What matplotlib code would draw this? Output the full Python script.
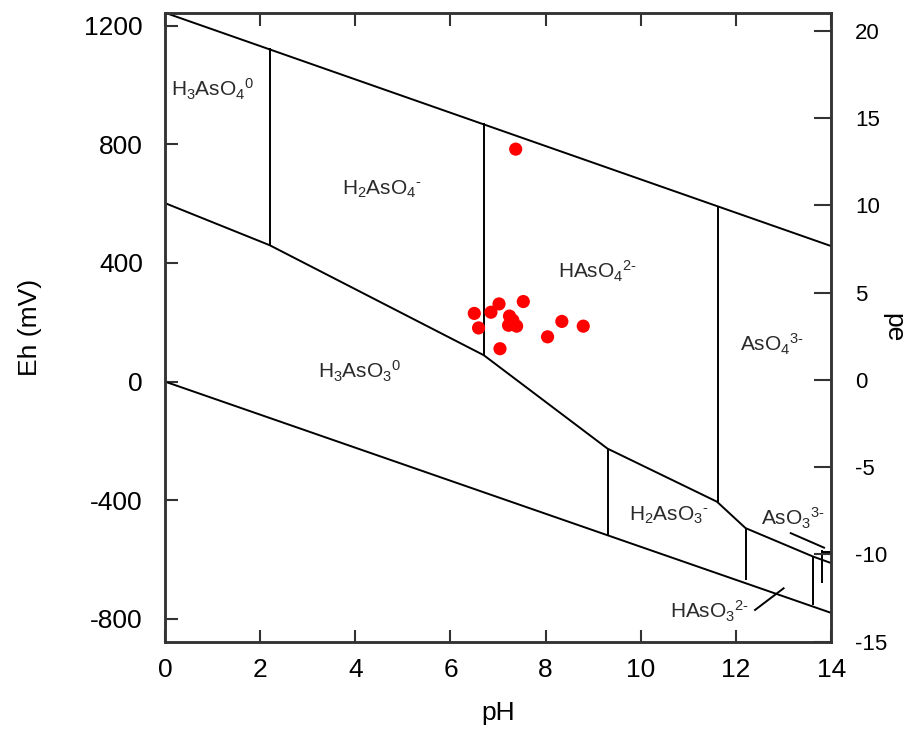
import numpy as np
import matplotlib
matplotlib.use('Agg')
import matplotlib.pyplot as plt

plt.rcParams['font.family'] = ['Liberation Sans', 'DejaVu Sans']
plt.rcParams['mathtext.fontset'] = 'custom'
plt.rcParams['mathtext.rm'] = 'Liberation Sans'
plt.rcParams['mathtext.default'] = 'regular'
plt.rcParams['axes.unicode_minus'] = False

# water stability limits (pH, Eh mV)
upper_ph = [0, 14]
upper_eh = [1244, 457]
lower_ph = [0, 14]
lower_eh = [0, -780]

# As(V)/As(III) boundary
redox_ph = [0, 2.2, 6.7, 9.3, 11.6, 12.2, 13.62, 14]
redox_eh = [602, 460, 89, -226, -405, -494, -590, -612]

# vertical acid-base boundaries: pH, Eh bottom, Eh top
vert_ph = [2.2, 6.7, 11.62, 9.3, 12.2, 13.62, 13.8]
vert_lo = [460, 89, -405, -517, -670, -754, -680]
vert_hi = [1125, 872, 590, -226, -494, -590, -568]

# samples
sample_ph = [7.37, 6.50, 6.59, 6.85, 7.02, 7.53, 7.24, 7.22, 7.39, 7.31, 7.04, 8.04, 8.34, 8.79]
sample_eh = [784, 230, 181, 234, 262, 270, 221, 190, 187, 207, 111, 151, 203, 187]

hy = '\u2010'
labels = [r'H$_3$AsO$_4$$^0$', r'H$_2$AsO$_4$$^{' + hy + '}$', r'HAsO$_4$$^{2' + hy + '}$',
          r'AsO$_4$$^{3' + hy + '}$', r'H$_3$AsO$_3$$^0$', r'H$_2$AsO$_3$$^{' + hy + '}$',
          r'AsO$_3$$^{3' + hy + '}$', r'HAsO$_3$$^{2' + hy + '}$']
label_ph = [1.0, 4.55, 9.1, 12.75, 4.1, 10.6, 13.2, 11.45]
label_eh = [985, 650, 370, 125, 35, -450, -460, -775]

fig = plt.figure(figsize=(9.08, 7.31), dpi=100)
ax = fig.add_axes([0.1817, 0.1222, 0.7337, 0.8604])
lc = 'black'
lw = 1.4
ax.plot(upper_ph, upper_eh, color=lc, lw=lw)
ax.plot(lower_ph, lower_eh, color=lc, lw=lw)
ax.plot(redox_ph, redox_eh, color=lc, lw=lw)
ax.vlines(vert_ph, vert_lo, vert_hi, color=lc, lw=lw)
ax.plot([13.8, 14], [-575, -575], color=lc, lw=lw)
# leader lines
ax.plot([13.15, 13.85], [-511, -560], color=lc, lw=lw)
ax.plot([12.4, 13.0], [-770, -697], color=lc, lw=lw)

ax.scatter(sample_ph, sample_eh, s=90, color='red', zorder=5, edgecolors='none')

for t, x, y in zip(labels, label_ph, label_eh):
    ax.text(x, y, t, fontsize=15, ha='center', va='center', color='#2a2a2a')

ax.set_xlim(0, 14)
ax.set_ylim(-877, 1244)
ax.set_xticks(range(0, 15, 2))
ax.set_yticks([-800, -400, 0, 400, 800, 1200])
ax.set_xlabel('pH', fontsize=19)
ax.set_ylabel('Eh (mV)', fontsize=19, va='center')
ax.xaxis.set_label_coords(0.5, -0.095)
ax.yaxis.set_label_coords(-0.203, 0.5)
ax.tick_params(direction='in', length=9, width=1.5, labelsize=19, pad=12, color='#333333',
               top=True, labeltop=False)
ax.tick_params(axis='y', pad=16)
for s in ax.spines.values():
    s.set_linewidth(1.8)
    s.set_color('#333333')

ax2 = ax.twinx()
ax2.set_ylim(-877 / 59.16, 1244 / 59.16)
ax2.set_yticks(range(-15, 21, 5))
ax2.tick_params(direction='in', length=12, width=1.5, labelsize=16, pad=17, color='#333333')
ax2.set_ylabel('pe', fontsize=19, rotation=270, va='center')
ax2.yaxis.set_label_coords(1.093, 0.5)
for s in ax2.spines.values():
    s.set_linewidth(1.8)
    s.set_color('#333333')

fig.savefig('out.png', dpi=100)
